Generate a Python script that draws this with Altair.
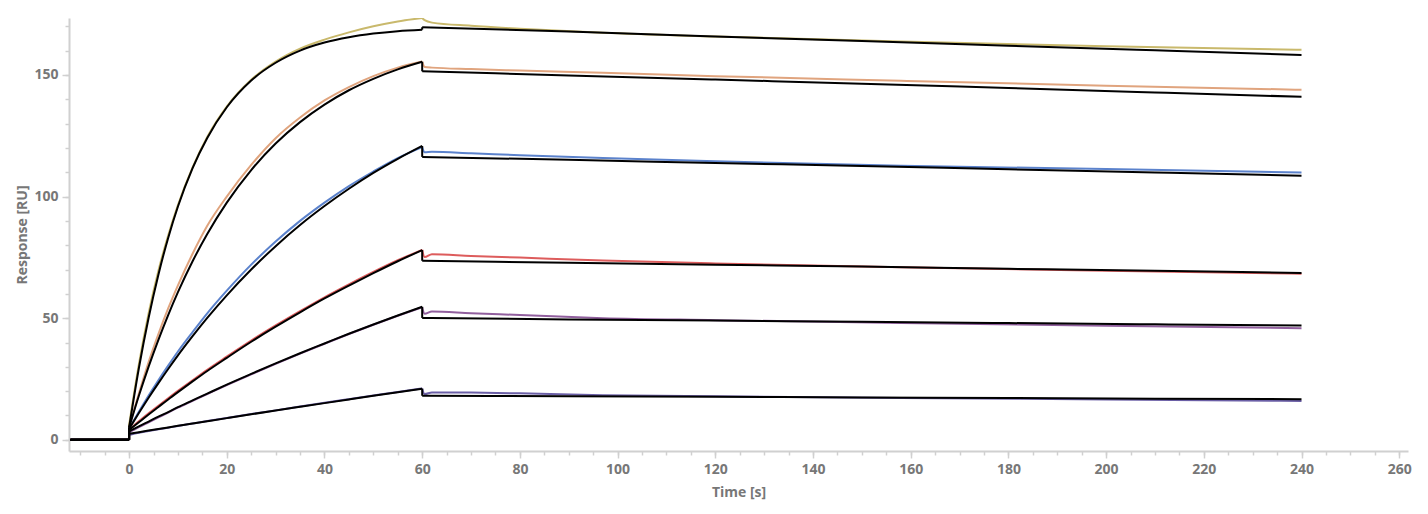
import altair as alt
import pandas as pd

# ---- data ----
T_ASSOC = [0, 2, 4, 6, 8, 10, 13, 16, 20, 25, 30, 35, 40, 45, 50, 55, 60]
T_FIT_DISS = [60, 90, 120, 150, 180, 210, 240]
T_DAT_DISS = [60.5, 62, 70, 80, 97, 120, 158, 200, 240]
T_START = -12

SERIES = ["c1", "c2", "c3", "c4", "c5", "c6"]
COLORS = ["#c9b96c", "#e0a47e", "#5b82cc", "#dd5c5c", "#915f9e", "#6b5fa6"]

FIT_A = {
    "c1": [5, 29.4, 50.2, 67.9, 83.0, 95.9, 111.7, 124.1, 136.7, 147.7, 155.0, 160.0, 163.3, 165.5, 167.0, 168.0, 168.6],
    "c2": [5, 18.1, 30.1, 41.1, 51.3, 60.7, 73.4, 84.6, 97.5, 110.9, 121.8, 130.6, 137.8, 143.7, 148.4, 152.3, 155.4],
    "c3": [4.5, 11.0, 17.3, 23.3, 29.1, 34.7, 42.6, 50.1, 59.4, 70.0, 79.6, 88.3, 96.1, 103.2, 109.7, 115.5, 120.8],
    "c4": [4, 7.2, 10.4, 13.5, 16.6, 19.6, 24.0, 28.3, 33.7, 40.3, 46.5, 52.4, 58.1, 63.4, 68.5, 73.4, 78.0],
    "c5": [3.5, 5.5, 7.5, 9.5, 11.4, 13.4, 16.2, 19.0, 22.7, 27.1, 31.4, 35.6, 39.6, 43.6, 47.4, 51.1, 54.7],
    "c6": [2.5, 3.15, 3.8, 4.45, 5.1, 5.74, 6.7, 7.65, 8.91, 10.48, 12.03, 13.56, 15.08, 16.58, 18.07, 19.54, 21.0],
}
FIT_D = {
    "c1": [169.6, 167.8, 165.8, 163.9, 162.0, 160.1, 158.2],
    "c2": [151.5, 149.8, 148.1, 146.4, 144.6, 142.8, 141.0],
    "c3": [116.3, 115.1, 113.8, 112.6, 111.2, 109.9, 108.6],
    "c4": [73.6, 72.8, 72.0, 71.2, 70.3, 69.5, 68.6],
    "c5": [50.1, 49.5, 49.0, 48.5, 48.0, 47.5, 47.0],
    "c6": [18.1, 17.9, 17.7, 17.4, 17.2, 16.9, 16.7],
}
DAT_A = {
    "c1": [6, 31, 52, 69.5, 84, 96.5, 112, 124.5, 137, 148, 155.5, 160.8, 164.5, 167.5, 170, 172, 173.4],
    "c2": [5, 19, 32, 43.5, 54, 63.5, 76.5, 88, 100, 113, 124, 132.5, 139.5, 145, 149.5, 153, 155.5],
    "c3": [4.5, 11.5, 18.2, 24.5, 30.5, 36.3, 44.3, 52, 61.3, 72, 81.5, 90, 97.5, 104.3, 110.3, 115.8, 120.3],
    "c4": [4, 7.6, 10.9, 14.0, 17.1, 20.1, 24.5, 28.8, 34.2, 40.8, 47.0, 52.9, 58.6, 63.9, 69.0, 73.8, 78.1],
    "c5": [3, 5.2, 7.2, 9.2, 11.2, 13.2, 16.0, 18.8, 22.5, 26.9, 31.2, 35.4, 39.5, 43.5, 47.3, 51.0, 54.5],
    "c6": [2, 2.9, 3.6, 4.3, 5.0, 5.7, 6.7, 7.7, 9.0, 10.6, 12.1, 13.7, 15.2, 16.7, 18.2, 19.7, 21.1],
}
DAT_D = {
    "c1": [172.5, 171.5, 170.2, 169.0, 167.3, 165.8, 163.7, 161.8, 160.3],
    "c2": [153.3, 153.0, 152.4, 151.8, 150.9, 149.5, 147.6, 145.6, 143.9],
    "c3": [118.2, 118.4, 117.8, 117.0, 115.8, 114.5, 112.7, 111.3, 109.9],
    "c4": [75.1, 76.3, 75.6, 74.9, 73.7, 72.5, 70.9, 69.5, 68.3],
    "c5": [51.8, 52.7, 52.0, 51.3, 50.0, 49.2, 48.0, 46.9, 45.9],
    "c6": [18.8, 19.5, 19.4, 19.1, 18.3, 17.9, 17.2, 16.6, 16.0],
}

X_MAJOR = [0, 20, 40, 60, 80, 100, 120, 140, 160, 180, 200, 220, 240, 260]
X_MINOR = list(range(-10, 261, 5))
Y_MAJOR = [0, 50, 100, 150]
Y_MINOR = list(range(0, 171, 10))

# ---- build tables: each curve split into segments so that the curved parts
# can be smoothed while the injection steps stay vertical ----
rows = []


def add(series, kind, seg, ts, rs):
    for i, (t, r) in enumerate(zip(ts, rs)):
        rows.append({"series": series, "kind": kind, "seg": f"{series}-{kind}-{seg}",
                     "t": t, "r": r, "o": i})


for s in SERIES:
    # fitted curves (black)
    a, d = FIT_A[s], FIT_D[s]
    add(s, "fit", "base", [T_START, 0], [0, 0])
    add(s, "fit", "jump0", [0, 0], [0, a[0]])
    add(s, "fit", "assoc", T_ASSOC, a)
    add(s, "fit", "step60", [T_ASSOC[-1], T_FIT_DISS[0]], [a[-1], d[0]])
    add(s, "fit", "diss", T_FIT_DISS, d)
    # measured curves (colour)
    a, d = DAT_A[s], DAT_D[s]
    add(s, "data", "base", [T_START, 0], [0, 0])
    add(s, "data", "jump0", [0, 0], [0, a[0]])
    add(s, "data", "assoc", T_ASSOC, a)
    add(s, "data", "diss", [T_ASSOC[-1]] + T_DAT_DISS, [a[-1]] + d)

df = pd.DataFrame(rows)

xs = alt.Scale(domain=[-12.3, 261.8], nice=False, zero=False)
ys = alt.Scale(domain=[-4.6, 173.4], nice=False, zero=False)

FONT = "Open Sans"
GREY = "#777777"
AX = "#d0d0d0"

minor_x = alt.Axis(values=X_MINOR, labels=False, domain=False, grid=False, tickSize=4,
                   tickColor=AX, tickWidth=1.5, title=None, orient="bottom")
minor_y = alt.Axis(values=Y_MINOR, labels=False, domain=False, grid=False, tickSize=4,
                   tickColor=AX, tickWidth=1.5, title=None, orient="left")
major_x = alt.Axis(values=X_MAJOR, grid=False, tickSize=7, tickColor=AX, tickWidth=1.5,
                   domainColor=AX, domainWidth=2, labelFont=FONT, labelFontSize=14,
                   labelFontWeight="bold", labelColor=GREY, labelPadding=4,
                   title="Time [s]", titleFont=FONT, titleFontSize=14, titleFontWeight="bold",
                   titleColor=GREY, titlePadding=9, orient="bottom")
major_y = alt.Axis(values=Y_MAJOR, grid=False, tickSize=7, tickColor=AX, tickWidth=1.5,
                   domainColor=AX, domainWidth=2, labelFont=FONT, labelFontSize=14,
                   labelFontWeight="bold", labelColor=GREY, labelPadding=4,
                   title="Response [RU]", titleFont=FONT, titleFontSize=14, titleFontWeight="bold",
                   titleColor=GREY, titlePadding=4, orient="left")

data_layer = alt.Chart(df).transform_filter(alt.datum.kind == "data").mark_line(
    strokeWidth=2, clip=True, interpolate="monotone"
).encode(
    x=alt.X("t:Q", scale=xs, axis=minor_x),
    y=alt.Y("r:Q", scale=ys, axis=minor_y),
    color=alt.Color("series:N", scale=alt.Scale(domain=SERIES, range=COLORS), legend=None),
    order="o:Q",
    detail="seg:N",
)

fit_layer = alt.Chart(df).transform_filter(alt.datum.kind == "fit").mark_line(
    strokeWidth=2, color="#000000", clip=True, interpolate="monotone"
).encode(
    x=alt.X("t:Q", scale=xs, axis=major_x),
    y=alt.Y("r:Q", scale=ys, axis=major_y),
    order="o:Q",
    detail="seg:N",
)

chart = alt.layer(data_layer, fit_layer).resolve_axis(x="independent", y="independent").properties(
    width=1339, height=433, padding={"left": 7, "top": 10, "right": 5, "bottom": 5}
).configure_view(stroke=None)

chart.save("out.html", embed_options={"renderer": "svg", "actions": False})
